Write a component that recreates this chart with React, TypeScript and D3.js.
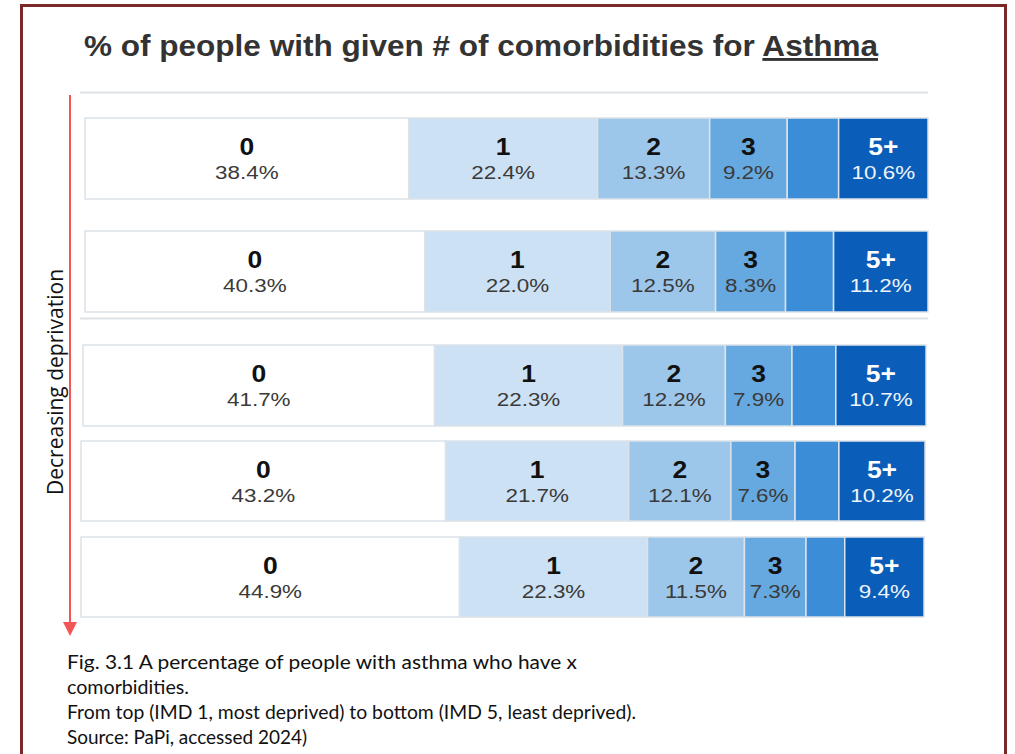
import React from "react";
import * as d3 from "d3";

const categories = ["0", "1", "2", "3", "4", "5+"];
const imd1 = [38.4, 22.4, 13.3, 9.2, 6.1, 10.6];
const imd2 = [40.3, 22.0, 12.5, 8.3, 5.7, 11.2];
const imd3 = [41.7, 22.3, 12.2, 7.9, 5.2, 10.7];
const imd4 = [43.2, 21.7, 12.1, 7.6, 5.2, 10.2];
const imd5 = [44.9, 22.3, 11.5, 7.3, 4.6, 9.4];
const rows = [imd1, imd2, imd3, imd4, imd5];

const colors = ["#ffffff", "#cde1f4", "#9dc7ea", "#66a9e0", "#3b8dd8", "#0a5db8"];
const textColors = ["#111", "#111", "#111", "#111", "#111", "#ffffff"];
const pctColors = ["#3a3a3a", "#3a3a3a", "#3a3a3a", "#3a3a3a", "#3a3a3a", "#eef4fb"];

// layout of each stacked bar (the original is a collage of separate charts)
const rowLayout = [
  { x0: 85, x1: 928, y: 118, h: 81 },
  { x0: 85, x1: 928, y: 231, h: 81 },
  { x0: 83, x1: 926, y: 345, h: 81 },
  { x0: 81, x1: 925, y: 441, h: 80 },
  { x0: 81, x1: 924, y: 537, h: 80 },
];

const captionLines = [
  "Fig. 3.1 A percentage of people with asthma who have x",
  "comorbidities.",
  "From top (IMD 1, most deprived) to bottom (IMD 5, least deprived).",
  "Source: PaPi, accessed 2024)",
];
const captionWidths = [510, 122, 569, 240];

const SANS = "Arial, 'Liberation Sans', sans-serif";
const CAP = "Lato, 'Open Sans', sans-serif";

export default function App() {
  const W = 1015;
  const H = 754;
  const frame = "#7a2828";
  const red = "#f25555";

  return (
    <div style={{ position: "absolute", left: 0, top: 0, width: W, height: H, background: "#fff" }}>
      <svg width={W} height={H} style={{ display: "block" }}>
        <rect x={0} y={0} width={W} height={H} fill="#fff" />
        {/* frame */}
        <line x1={21.5} y1={5} x2={21.5} y2={H} stroke={frame} strokeWidth={3} />
        <line x1={20} y1={5.5} x2={1007} y2={5.5} stroke={frame} strokeWidth={3} />
        <line x1={1005.5} y1={4} x2={1005.5} y2={H} stroke={frame} strokeWidth={3} />

        {/* title */}
        <text
          x={84}
          y={56}
          fontFamily={SANS}
          fontWeight="bold"
          fontSize={29}
          fill="#333"
          textLength={794}
          lengthAdjust="spacingAndGlyphs"
        >
          % of people with given # of comorbidities for <tspan textDecoration="underline">Asthma</tspan>
        </text>

        {/* separator lines */}
        <line x1={80} y1={92.5} x2={928} y2={92.5} stroke="#dde2e6" strokeWidth={2} />
        <line x1={80} y1={318.5} x2={928} y2={318.5} stroke="#dde2e6" strokeWidth={2} />

        {/* bars */}
        {rows.map((vals, ri) => {
          const L = rowLayout[ri];
          const x = d3.scaleLinear().domain([0, 100]).range([L.x0, L.x1]);
          const cum = d3.cumsum(vals);
          return (
            <g key={ri}>
              {vals.map((v, ci) => {
                const start = ci === 0 ? 0 : cum[ci - 1];
                const xa = x(start);
                const xb = x(start + v);
                const w = xb - xa;
                const cx = (xa + xb) / 2;
                const show = w > 55;
                return (
                  <g key={ci}>
                    <rect x={xa} y={L.y} width={w} height={L.h} fill={colors[ci]} stroke="#dce2e7" strokeWidth={1.5} />
                    {show && (
                      <>
                        <text
                          transform={`translate(${cx},${L.y + 37}) scale(1.15,1)`}
                          textAnchor="middle"
                          fontFamily={SANS}
                          fontWeight="bold"
                          fontSize={23}
                          fill={textColors[ci]}
                        >
                          {categories[ci]}
                        </text>
                        <text
                          transform={`translate(${cx},${L.y + 61}) scale(1.18,1)`}
                          textAnchor="middle"
                          fontFamily={SANS}
                          fontSize={19}
                          fill={pctColors[ci]}
                        >
                          {d3.format(".1f")(v) + "%"}
                        </text>
                      </>
                    )}
                  </g>
                );
              })}
            </g>
          );
        })}

        {/* arrow */}
        <line x1={70} y1={95} x2={70} y2={624} stroke={red} strokeWidth={2} />
        <path d="M63,622 L77,622 L70,636 Z" fill={red} />
        <text
          transform="translate(63,382) rotate(-90)"
          textAnchor="middle"
          fontFamily="'Open Sans', sans-serif"
          fontSize={21}
          fill="#111"
        >
          Decreasing deprivation
        </text>

        {/* caption */}
        {captionLines.map((t, i) => (
          <text
            key={i}
            x={67}
            y={669 + i * 25}
            fontFamily={CAP}
            fontSize={18.5}
            fill="#111"
            textLength={captionWidths[i]}
            lengthAdjust="spacingAndGlyphs"
          >
            {t}
          </text>
        ))}
      </svg>
    </div>
  );
}
